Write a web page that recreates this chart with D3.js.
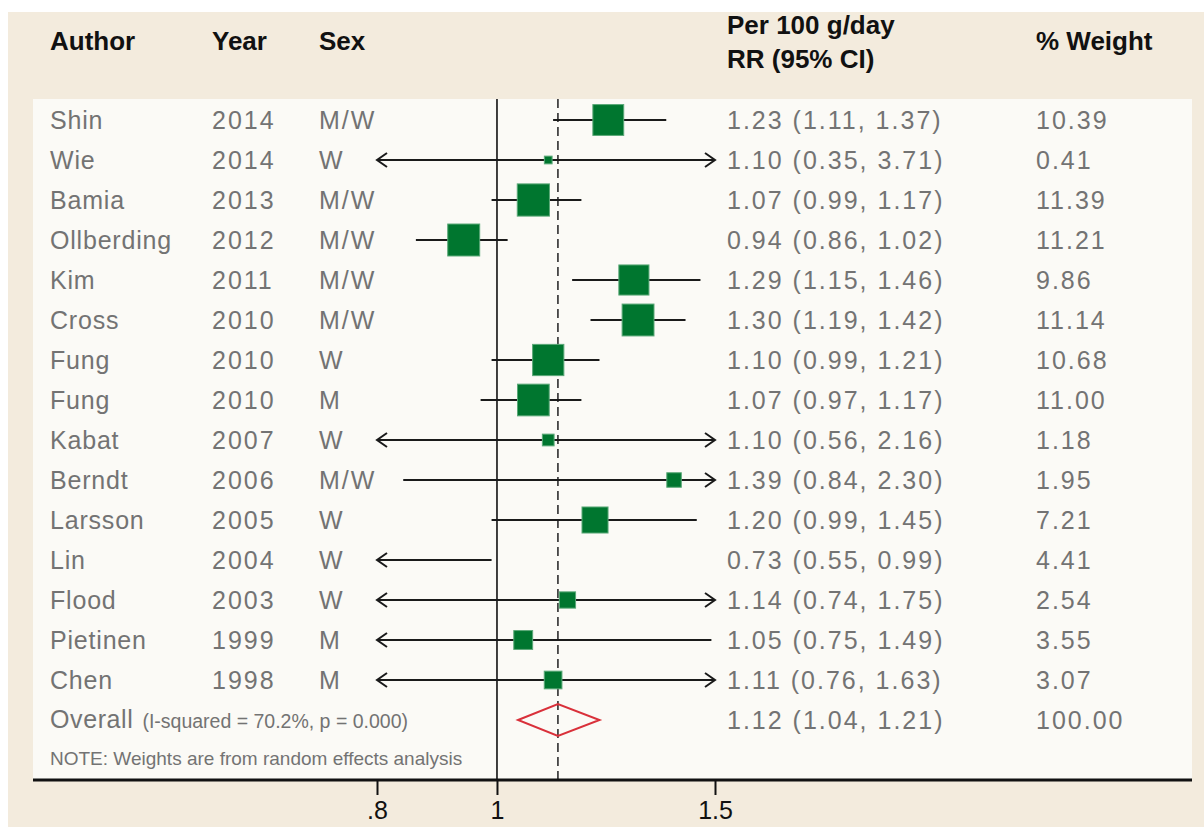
<!DOCTYPE html>
<html lang="en">
<head>
  <meta charset="utf-8">
  <title>Forest plot</title>
  <script type="text/javascript" src="https://cdn.jsdelivr.net/npm/d3@7/dist/d3.min.js"></script>
  <style>
    body { margin: 0; background: #fff; }
    text { font-family: "Liberation Sans", Arial, sans-serif; }
  </style>
</head>
<body>
  <script type="text/javascript">

  // study data
  var authors = ["Shin", "Wie", "Bamia", "Ollberding", "Kim", "Cross", "Fung", "Fung",
                 "Kabat", "Berndt", "Larsson", "Lin", "Flood", "Pietinen", "Chen"];
  var years = [2014, 2014, 2013, 2012, 2011, 2010, 2010, 2010, 2007, 2006, 2005, 2004, 2003, 1999, 1998];
  var sexes = ["M/W", "W", "M/W", "M/W", "M/W", "M/W", "W", "M", "W", "M/W", "W", "W", "W", "M", "M"];
  var rr = [1.23, 1.10, 1.07, 0.94, 1.29, 1.30, 1.10, 1.07, 1.10, 1.39, 1.20, 0.73, 1.14, 1.05, 1.11];
  var lower = [1.11, 0.35, 0.99, 0.86, 1.15, 1.19, 0.99, 0.97, 0.56, 0.84, 0.99, 0.55, 0.74, 0.75, 0.76];
  var upper = [1.37, 3.71, 1.17, 1.02, 1.46, 1.42, 1.21, 1.17, 2.16, 2.30, 1.45, 0.99, 1.75, 1.49, 1.63];
  var weights = [10.39, 0.41, 11.39, 11.21, 9.86, 11.14, 10.68, 11.00, 1.18, 1.95, 7.21, 4.41, 2.54, 3.55, 3.07];

  var overall = { rr: 1.12, lower: 1.04, upper: 1.21, weight: 100 };
  var overallStats = "(I-squared = 70.2%, p = 0.000)";

  var tickValues = [0.8, 1, 1.5];
  var tickLabels = [".8", "1", "1.5"];

  var width = 1204, height = 827;
  var xMin = 0.8, xMax = 1.5;

  var studies = authors.map((a, i) => ({
    author: a, year: years[i], sex: sexes[i],
    rr: rr[i], lo: lower[i], hi: upper[i], w: weights[i]
  }));

  var svg = d3.select("body").append("svg")
    .attr("width", width).attr("height", height)
    .attr("viewBox", [0, 0, width, height]);

  // backgrounds
  svg.append("rect").attr("x", 8).attr("y", 12).attr("width", width - 8).attr("height", height - 12)
    .attr("fill", "#f3ebdd");
  var panelTop = 99, panelBottom = 780, panelLeft = 33, panelRight = 1192;
  svg.append("rect").attr("x", panelLeft).attr("y", panelTop)
    .attr("width", panelRight - panelLeft).attr("height", panelBottom - panelTop)
    .attr("fill", "#fbfaf6");

  var x = d3.scaleLog().domain([xMin, xMax]).range([377, 715]);
  var y = d3.scaleLinear().domain([0, 1]).range([120, 160]);   // row index -> centre
  var side = d3.scaleSqrt().domain([0, 12]).range([0, 31]);

  var col = { author: 50, year: 212, sex: 319, ci: 727, weight: 1036 };

  // header
  var head = svg.append("g").attr("font-weight", "bold").attr("font-size", 26).attr("fill", "#111");
  head.append("text").attr("x", col.author).attr("y", 50).text("Author");
  head.append("text").attr("x", col.year).attr("y", 50).text("Year");
  head.append("text").attr("x", col.sex).attr("y", 50).text("Sex");
  head.append("text").attr("x", col.ci).attr("y", 34).text("Per 100 g/day");
  head.append("text").attr("x", col.ci).attr("y", 68).text("RR (95% CI)");
  head.append("text").attr("x", col.weight).attr("y", 50).text("% Weight");

  // reference lines
  svg.append("line")
    .attr("x1", x(1)).attr("x2", x(1)).attr("y1", panelTop).attr("y2", panelBottom)
    .attr("stroke", "#111").attr("stroke-width", 1.6);
  svg.append("line")
    .attr("x1", x(overall.rr)).attr("x2", x(overall.rr)).attr("y1", panelTop).attr("y2", panelBottom)
    .attr("stroke", "#444").attr("stroke-width", 1.8).attr("stroke-dasharray", "9,5");

  // study rows
  var rows = svg.append("g").selectAll("g").data(studies).enter().append("g")
    .attr("transform", (d, i) => `translate(0,${y(i)})`);

  rows.append("line")
    .attr("x1", d => x(Math.max(d.lo, xMin)))
    .attr("x2", d => x(Math.min(d.hi, xMax)))
    .attr("stroke", "#1a1a1a").attr("stroke-width", 1.8);

  // arrows for truncated CIs
  rows.filter(d => d.lo < xMin).append("path")
    .attr("d", `M${x(xMin) + 10},-7 L${x(xMin)},0 L${x(xMin) + 10},7`)
    .attr("fill", "none").attr("stroke", "#1a1a1a").attr("stroke-width", 2);
  rows.filter(d => d.hi > xMax).append("path")
    .attr("d", `M${x(xMax) - 10},-7 L${x(xMax)},0 L${x(xMax) - 10},7`)
    .attr("fill", "none").attr("stroke", "#1a1a1a").attr("stroke-width", 2);

  rows.filter(d => d.rr >= xMin && d.rr <= xMax).append("rect")
    .attr("x", d => x(d.rr) - side(d.w) / 2 - 1)
    .attr("y", d => -side(d.w) / 2 - 1)
    .attr("width", d => side(d.w) + 2)
    .attr("height", d => side(d.w) + 2)
    .attr("fill", "#00762f").attr("stroke", "#5aa877").attr("stroke-width", 1);

  var txt = rows.append("g").attr("font-size", 25).attr("fill", "#737373");
  txt.append("text").attr("x", col.author).attr("y", 9).attr("letter-spacing", 0.8).text(d => d.author);
  txt.append("text").attr("x", col.year).attr("y", 9).attr("letter-spacing", 2).text(d => d.year);
  txt.append("text").attr("x", col.sex).attr("y", 9).attr("letter-spacing", 2).text(d => d.sex);
  txt.append("text").attr("x", col.ci).attr("y", 9).attr("letter-spacing", 2)
    .text(d => `${d.rr.toFixed(2)} (${d.lo.toFixed(2)}, ${d.hi.toFixed(2)})`);
  txt.append("text").attr("x", col.weight).attr("y", 9).attr("letter-spacing", 2)
    .text(d => d.w.toFixed(2));

  // overall row
  var yo = y(studies.length);
  svg.append("path")
    .attr("d", `M${x(overall.lower)},${yo} L${x(overall.rr)},${yo - 16} L${x(overall.upper)},${yo} L${x(overall.rr)},${yo + 16} Z`)
    .attr("fill", "none").attr("stroke", "#d9303a").attr("stroke-width", 2);

  var ov = svg.append("g").attr("fill", "#737373");
  var t = ov.append("text").attr("x", col.author).attr("y", yo + 8);
  t.append("tspan").attr("font-size", 25).attr("letter-spacing", 0.6).text("Overall");
  t.append("tspan").attr("font-size", 19.5).attr("dx", 9).text(overallStats);
  ov.append("text").attr("x", col.ci).attr("y", yo + 9).attr("font-size", 25).attr("letter-spacing", 2)
    .text(`${overall.rr.toFixed(2)} (${overall.lower.toFixed(2)}, ${overall.upper.toFixed(2)})`);
  ov.append("text").attr("x", col.weight).attr("y", yo + 9).attr("font-size", 25).attr("letter-spacing", 2)
    .text(overall.weight.toFixed(2));
  ov.append("text").attr("x", col.author).attr("y", 765).attr("font-size", 19)
    .text("NOTE: Weights are from random effects analysis");

  // x axis
  svg.append("line")
    .attr("x1", panelLeft).attr("x2", panelRight).attr("y1", panelBottom).attr("y2", panelBottom)
    .attr("stroke", "#111").attr("stroke-width", 3);
  var axis = svg.append("g").attr("transform", `translate(0,${panelBottom})`)
    .call(d3.axisBottom(x).tickValues(tickValues).tickSize(15).tickPadding(6)
      .tickFormat((d, i) => tickLabels[i]));
  axis.select(".domain").remove();
  axis.selectAll(".tick line").attr("stroke", "#111").attr("stroke-width", 2);
  axis.selectAll(".tick text").attr("font-size", 25).attr("fill", "#111")
    .attr("font-family", "Liberation Sans, Arial, sans-serif");

  </script>
</body>
</html>
